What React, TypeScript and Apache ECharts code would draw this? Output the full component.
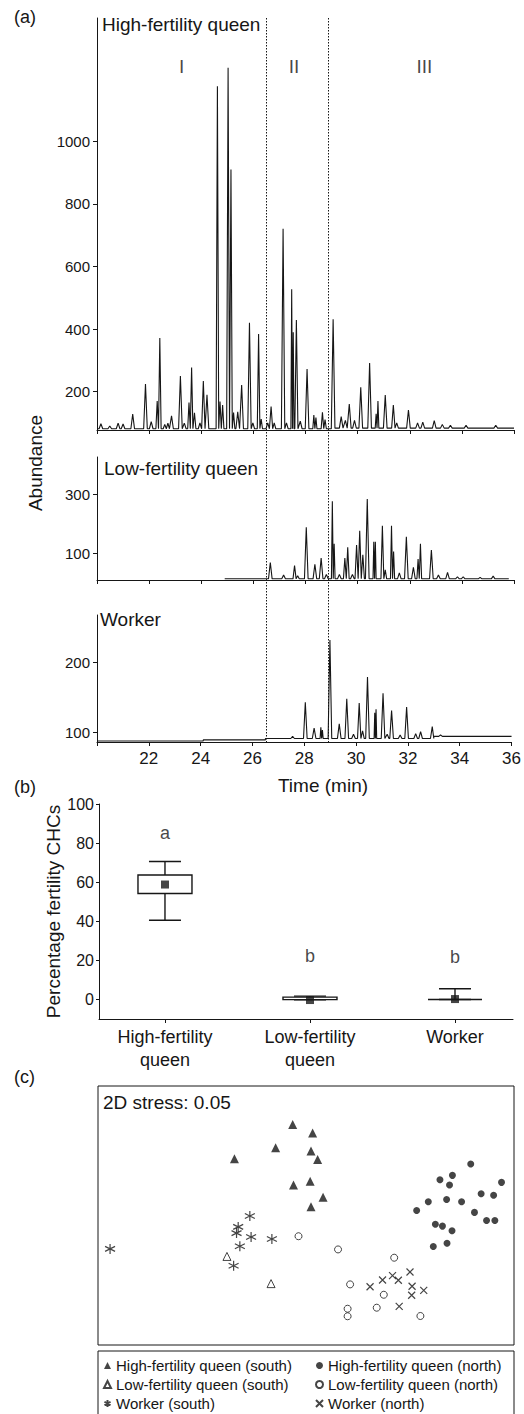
import React, { useEffect, useRef } from 'react';
import * as echarts from 'echarts';

const FONT = '"Liberation Sans", Arial, Helvetica, sans-serif';
const INK = '#161616';

// ---------- Panel (a): GC chromatograms ----------
const timeTicks = [20, 22, 24, 26, 28, 30, 32, 34, 36];
const timeLabels = [22, 24, 26, 28, 30, 32, 34, 36];
const regionBounds = [26.47, 28.86];
const regionNames = ['I', 'II', 'III'];
const regionCenters = [23.25, 27.56, 32.56];
const regionLabelY = 1239;

const hfTicks = [200, 400, 600, 800, 1000];
const lfTicks = [100, 300];
const wTicks = [100, 200];

// [time (min), abundance]
const hfPeaks: [number, number][] = [
  [20.15, 97], [20.49, 90], [20.81, 99], [21.0, 96], [21.37, 128], [21.86, 224], [22.08, 104],
  [22.31, 170], [22.41, 371], [22.6, 95], [22.72, 99], [22.86, 122], [23.2, 250], [23.35, 99],
  [23.53, 165], [23.63, 277], [23.74, 132], [23.95, 100], [24.08, 234], [24.22, 190],
  [24.62, 1177], [24.72, 168], [24.82, 157], [25.03, 1236], [25.14, 910], [25.24, 133],
  [25.4, 135], [25.55, 221], [25.85, 420], [25.98, 100], [26.2, 384], [26.3, 112], [26.55, 100],
  [26.68, 152], [26.8, 100], [27.14, 721], [27.27, 100], [27.47, 527], [27.53, 390], [27.65, 429],
  [27.8, 105], [28.06, 272], [28.32, 125], [28.4, 117], [28.65, 134], [28.75, 110], [29.06, 431],
  [29.37, 120], [29.53, 108], [29.68, 160], [29.88, 108], [30.12, 214], [30.46, 291], [30.71, 129],
  [30.78, 170], [31.06, 189], [31.37, 157], [31.5, 100], [31.95, 141], [32.3, 100], [32.5, 102],
  [32.94, 107], [33.25, 95], [33.56, 92], [34.16, 92], [35.3, 92],
];
const lfPeaks: [number, number][] = [
  [26.65, 70], [27.16, 28], [27.58, 60], [27.7, 25], [28.03, 189], [28.36, 64], [28.6, 85],
  [28.8, 30], [29.03, 277], [29.1, 133], [29.3, 30], [29.51, 85], [29.62, 121], [29.8, 30],
  [29.96, 129], [30.08, 177], [30.2, 96], [30.37, 284], [30.62, 140], [30.68, 140], [30.95, 194],
  [31.06, 45], [31.3, 194], [31.38, 107], [31.6, 35], [31.87, 157], [32.14, 54], [32.32, 82],
  [32.41, 133], [32.83, 112], [33.1, 28], [33.45, 37], [33.83, 22], [34.05, 22], [34.7, 20], [35.2, 24],
];
const wPeaks: [number, number][] = [
  [27.55, 94], [28.04, 143], [28.38, 106], [28.64, 107], [28.7, 103], [28.99, 232], [29.35, 112],
  [29.64, 148], [29.9, 97], [30.12, 142], [30.25, 102], [30.44, 179], [30.72, 128], [30.77, 133],
  [31.04, 156], [31.2, 97], [31.37, 131], [31.7, 96], [31.95, 136], [32.3, 98], [32.49, 101],
  [32.94, 108], [33.26, 96],
];
// baseline levels: [from time, level]
const hfBaseline: [number, number][] = [[20, 81], [29, 83]];
const lfBaseline: [number, number][] = [[24.9, 15]];
const wBaseline: [number, number][] = [[20, 87.5], [24.1, 89], [26.5, 91], [33, 94]];

// ---------- Panel (b): box plots ----------
const groups = ['High-fertility\nqueen', 'Low-fertility\nqueen', 'Worker'];
const boxMin = [40.5, -0.2, 0];
const boxQ1 = [54.2, -0.1, 0];
const boxQ3 = [63.7, 1.2, 0];
const boxMax = [70.6, 1.7, 5.5];
const means = [58.8, -0.3, 0.2];
const sigLetters = ['a', 'b', 'b'];
const sigY = [85.4, 22.2, 21.5];
const pctTicks = [0, 20, 40, 60, 80, 100];

// ---------- Panel (c): NMDS ----------
const hfSouth = [[46.8, 85.1], [51.6, 81.9], [42.7, 76.2], [32.8, 71.9], [51.2, 74.9], [52.8, 71.6], [47.0, 61.8], [51.0, 63.2], [54.1, 57.0], [51.2, 53.4]];
const lfSouth = [[31.0, 34.2], [41.6, 23.7]];
const wSouth = [[2.9, 37.1], [36.5, 49.8], [33.7, 45.6], [33.3, 43.2], [36.8, 41.7], [41.8, 40.9], [34.1, 38.1], [32.6, 30.6]];
const hfNorth = [[89.6, 69.9], [82.2, 63.8], [85.2, 65.5], [84.5, 61.8], [97.0, 62.8], [79.4, 55.3], [83.8, 56.2], [87.4, 55.3], [92.1, 58.4], [95.1, 57.8], [76.6, 51.9], [90.5, 51.2], [81.1, 46.6], [82.8, 45.9], [85.1, 44.1], [93.4, 48.1], [95.4, 48.1], [80.6, 38.0], [83.9, 39.3]];
const lfNorth = [[48.2, 42.0], [57.7, 36.9], [71.2, 33.7], [60.6, 23.4], [68.7, 19.4], [67.0, 14.4], [60.0, 14.0], [60.0, 11.1], [77.5, 11.2]];
const wNorth = [[75.0, 28.2], [70.8, 26.8], [68.4, 25.1], [72.2, 25.0], [65.4, 22.5], [75.5, 22.7], [78.3, 21.1], [75.4, 19.2], [72.4, 14.9]];

const ASTERISK = 'path://M5,0L5,10M0.67,2.5L9.33,7.5M0.67,7.5L9.33,2.5';
const CROSS = 'path://M0,0L8,8M0,8L8,0';

function buildTrace(peaks: [number, number][], baseline: [number, number][], tStart: number, tEnd: number) {
  const baseAt = (t: number) => {
    let b = baseline[0][1];
    for (const [s, v] of baseline) if (t >= s) b = v;
    return b;
  };
  const sorted = [...peaks].sort((a, b) => a[0] - b[0]);
  const pts: number[][] = [[tStart, baseAt(tStart)]];
  baseline.forEach(([s]) => {
    if (s > tStart) pts.push([s - 0.001, baseAt(s - 0.001)], [s, baseAt(s)]);
  });
  sorted.forEach(([t, h], i) => {
    const prev = i > 0 ? sorted[i - 1][0] : tStart;
    const next = i < sorted.length - 1 ? sorted[i + 1][0] : tEnd;
    const w = Math.min(0.07, (t - prev) / 2, (next - t) / 2);
    pts.push([t - w, baseAt(t - w)], [t, h], [t + w, baseAt(t + w)]);
  });
  pts.push([tEnd, baseAt(tEnd)]);
  return pts.sort((a, b) => a[0] - b[0]);
}

const axisLineStyle = { show: true, onZero: false, lineStyle: { color: INK, width: 1 } };
const labelStyle = { color: INK, fontFamily: FONT };
const plain = (v: number) => String(v);

function timeAxis(gridIndex: number, showLabels: boolean) {
  return {
    type: 'value', gridIndex, min: 20, max: 36,
    axisLine: axisLineStyle,
    axisTick: { show: true, length: 4, lineStyle: { color: INK }, customValues: timeTicks },
    axisLabel: { show: showLabels, ...labelStyle, fontSize: 17, margin: 8, customValues: timeLabels, formatter: plain },
    splitLine: { show: false },
  };
}
function abundAxis(gridIndex: number, min: number, max: number, ticks: number[]) {
  return {
    type: 'value', gridIndex, min, max,
    axisLine: axisLineStyle,
    axisTick: { show: true, length: 4, lineStyle: { color: INK }, customValues: ticks },
    axisLabel: { ...labelStyle, fontSize: 15, margin: 7, customValues: ticks, formatter: plain },
    splitLine: { show: false },
  };
}
function traceSeries(idx: number, data: number[][]) {
  return {
    type: 'line', xAxisIndex: idx, yAxisIndex: idx, data,
    showSymbol: false, symbol: 'none', silent: true,
    lineStyle: { color: INK, width: 1.1 },
  };
}

export default function App() {
  const ref = useRef<HTMLDivElement>(null);
  useEffect(() => {
    if (!ref.current) return;
    const chart = echarts.init(ref.current, null, { renderer: 'svg' });

    const nmds = [
      { name: 'High-fertility queen (south)', data: hfSouth, symbol: 'triangle', symbolSize: 9, itemStyle: { color: INK } },
      { name: 'Low-fertility queen (south)', data: lfSouth, symbol: 'triangle', symbolSize: 8, itemStyle: { color: '#fff', borderColor: INK, borderWidth: 1 } },
      { name: 'Worker (south)', data: wSouth, symbol: ASTERISK, symbolSize: 10, itemStyle: { color: 'rgba(0,0,0,0)', borderColor: INK, borderWidth: 1.2 } },
      { name: 'High-fertility queen (north)', data: hfNorth, symbol: 'circle', symbolSize: 7, itemStyle: { color: INK } },
      { name: 'Low-fertility queen (north)', data: lfNorth, symbol: 'circle', symbolSize: 7, itemStyle: { color: '#fff', borderColor: INK, borderWidth: 1 } },
      { name: 'Worker (north)', data: wNorth, symbol: CROSS, symbolSize: 7, itemStyle: { color: 'rgba(0,0,0,0)', borderColor: INK, borderWidth: 1.2 } },
    ].map((s) => ({ ...s, type: 'scatter', xAxisIndex: 4, yAxisIndex: 4 }));

    const legendCommon = {
      orient: 'vertical', itemWidth: 7, itemHeight: 7, itemGap: 0, padding: 0, selectedMode: false,
      height: 60,
      textStyle: { color: INK, fontFamily: FONT, fontSize: 15, lineHeight: 19 },
    };

    chart.setOption({
      animation: false,
      textStyle: { fontFamily: FONT },
      grid: [
        { left: 97, top: 18, width: 417, height: 412 },
        { left: 97, top: 457, width: 417, height: 123 },
        { left: 97, top: 615, width: 417, height: 127 },
        { left: 99, top: 804, width: 414, height: 215 },
        { left: 98, top: 1086, width: 416, height: 259, show: true, borderColor: INK, borderWidth: 1, backgroundColor: 'transparent' },
      ],
      xAxis: [
        timeAxis(0, false),
        timeAxis(1, false),
        timeAxis(2, true),
        {
          type: 'value', gridIndex: 3, min: 0.545, max: 3.4,
          axisLine: axisLineStyle,
          axisTick: { show: true, length: 4, lineStyle: { color: INK }, customValues: [1, 2, 3] },
          axisLabel: {
            ...labelStyle, fontSize: 18, lineHeight: 23, margin: 6, customValues: [1, 2, 3],
            formatter: (v: number) => groups[Math.round(v) - 1] ?? '',
          },
          splitLine: { show: false },
        },
        { type: 'value', gridIndex: 4, min: 0, max: 100, show: false },
      ],
      yAxis: [
        abundAxis(0, 77, 1395, hfTicks),
        abundAxis(1, 11, 426, lfTicks),
        abundAxis(2, 86, 268, wTicks),
        {
          type: 'value', gridIndex: 3, min: -10, max: 100,
          name: 'Percentage fertility CHCs', nameLocation: 'middle', nameGap: 36,
          nameMoveOverlap: false,
          nameTextStyle: { ...labelStyle, fontSize: 19 },
          axisLine: axisLineStyle,
          axisTick: { show: true, length: 3, lineStyle: { color: INK }, customValues: pctTicks },
          axisLabel: { ...labelStyle, fontSize: 16, margin: 5, customValues: pctTicks, formatter: plain },
          splitLine: { show: false },
        },
        { type: 'value', gridIndex: 4, min: 0, max: 100, show: false },
      ],
      legend: [
        { ...legendCommon, left: 103, top: 1356, data: nmds.slice(0, 3).map((s) => s.name) },
        { ...legendCommon, left: 315, top: 1356, data: nmds.slice(3).map((s) => s.name) },
      ],
      series: [
        traceSeries(0, buildTrace(hfPeaks, hfBaseline, 20, 36)),
        traceSeries(1, buildTrace(lfPeaks, lfBaseline, 24.9, 35.8)),
        traceSeries(2, buildTrace(wPeaks, wBaseline, 20, 36)),
        {
          type: 'scatter', xAxisIndex: 0, yAxisIndex: 0, silent: true,
          symbol: 'circle', symbolSize: 1, itemStyle: { color: 'rgba(0,0,0,0)' },
          data: regionNames.map((n, i) => ({ name: n, value: [regionCenters[i], regionLabelY] })),
          label: { show: true, position: 'inside', formatter: '{b}', color: INK, fontFamily: FONT, fontSize: 19 },
        },
        {
          type: 'custom', xAxisIndex: 3, yAxisIndex: 3, silent: true,
          data: groups.map((_, i) => [i + 1, boxMin[i], boxQ1[i], boxQ3[i], boxMax[i]]),
          encode: { x: 0, y: [1, 2, 3, 4] },
          renderItem: (_p: any, api: any) => {
            const x = api.value(0);
            const [cx, yMin] = api.coord([x, api.value(1)]);
            const yQ1 = api.coord([x, api.value(2)])[1];
            const yQ3 = api.coord([x, api.value(3)])[1];
            const yMax = api.coord([x, api.value(4)])[1];
            const bw = 54, cw = 32;
            const st = { stroke: INK, lineWidth: 1.4, fill: 'none' };
            return {
              type: 'group',
              children: [
                { type: 'line', shape: { x1: cx, y1: yMax, x2: cx, y2: yQ3 }, style: st },
                { type: 'line', shape: { x1: cx, y1: yQ1, x2: cx, y2: yMin }, style: st },
                { type: 'line', shape: { x1: cx - cw / 2, y1: yMax, x2: cx + cw / 2, y2: yMax }, style: st },
                { type: 'line', shape: { x1: cx - cw / 2, y1: yMin, x2: cx + cw / 2, y2: yMin }, style: st },
                { type: 'rect', shape: { x: cx - bw / 2, y: yQ3, width: bw, height: Math.max(yQ1 - yQ3, 0) }, style: { ...st, fill: '#fff' } },
              ],
            };
          },
        },
        {
          type: 'scatter', xAxisIndex: 3, yAxisIndex: 3, silent: true,
          symbol: 'rect', symbolSize: 8, itemStyle: { color: INK },
          data: means.map((m, i) => [i + 1, m]), z: 5,
        },
        {
          type: 'scatter', xAxisIndex: 3, yAxisIndex: 3, silent: true,
          symbol: 'circle', symbolSize: 1, itemStyle: { color: 'rgba(0,0,0,0)' },
          data: sigLetters.map((l, i) => ({ name: l, value: [i + 1, sigY[i]] })),
          label: { show: true, position: 'inside', formatter: '{b}', color: INK, fontFamily: FONT, fontSize: 18 },
        },
        ...nmds,
      ],
    });

    const px = (v: number) => chart.convertToPixel({ xAxisIndex: 0 } as any, v) as number;
    const yTop = chart.convertToPixel({ yAxisIndex: 0 } as any, 1395) as number;
    const yBottom = chart.convertToPixel({ yAxisIndex: 2 } as any, 86) as number;
    const txt = (text: string, x: number, y: number, fontSize: number, extra: any = {}) => ({
      type: 'text', x, y, silent: true, ...extra,
      style: { text, fill: INK, font: `${fontSize}px ${FONT}`, align: 'left', verticalAlign: 'middle', ...(extra.style || {}) },
    });

    chart.setOption({
      graphic: {
        elements: [
          ...regionBounds.map((t) => ({
            type: 'line', silent: true,
            shape: { x1: Math.round(px(t)) + 0.5, y1: yTop, x2: Math.round(px(t)) + 0.5, y2: yBottom },
            style: { stroke: INK, lineWidth: 1, lineDash: [1.5, 1.5] },
          })),
          txt('(a)', 14, 17, 18),
          txt('High-fertility queen', 102, 24, 19),
          txt('Low-fertility queen', 104, 468, 19),
          txt('Worker', 100, 619, 19),
          txt('Abundance', 35, 463, 19, { rotation: Math.PI / 2, style: { align: 'center' } }),
          txt('Time (min)', 323, 785, 19, { style: { align: 'center' } }),
          txt('(b)', 14, 787, 18),
          txt('(c)', 14, 1077, 18),
          txt('2D stress: 0.05', 103, 1102, 19),
          {
            type: 'rect', silent: true, z: -1,
            shape: { x: 98, y: 1351, width: 416, height: 80 },
            style: { fill: 'none', stroke: INK, lineWidth: 1 },
          },
        ],
      },
    });

    return () => chart.dispose();
  }, []);

  return <div ref={ref} style={{ position: 'absolute', left: 0, top: 0, width: 524, height: 1414 }} />;
}
